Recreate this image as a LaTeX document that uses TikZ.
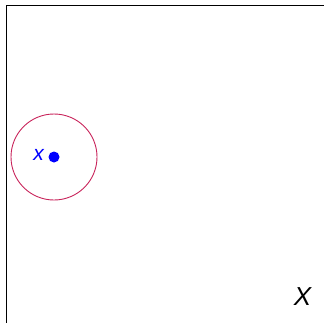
\documentclass[tikz,border=0pt]{standalone}
\usepackage{fontspec}
\setmainfont{Liberation Sans}
\definecolor{ringred}{HTML}{C8235A}
\begin{document}
\begin{tikzpicture}[x=1pt,y=-1pt,
  frame/.style={draw=black,line width=1.4pt},
  ring/.style={draw=ringred,line width=0.9pt},
  lbl/.style={inner sep=0pt}]
\useasboundingbox (0,0) rectangle (323,323);
\draw[frame] (6.5,330) -- (6.5,5.5) -- (330,5.5);
\coordinate (c) at (54,157);
\draw[ring] (c) circle[radius=43];
\fill[blue] (c) circle[radius=5.5];
\node[lbl,text=blue,font=\itshape\fontsize{21}{24}\selectfont] (xl) at (38.5,154.5) {x};
\node[lbl,font=\itshape\fontsize{26}{30}\selectfont] (XL) at (302.5,297) {X};
\end{tikzpicture}
\end{document}
